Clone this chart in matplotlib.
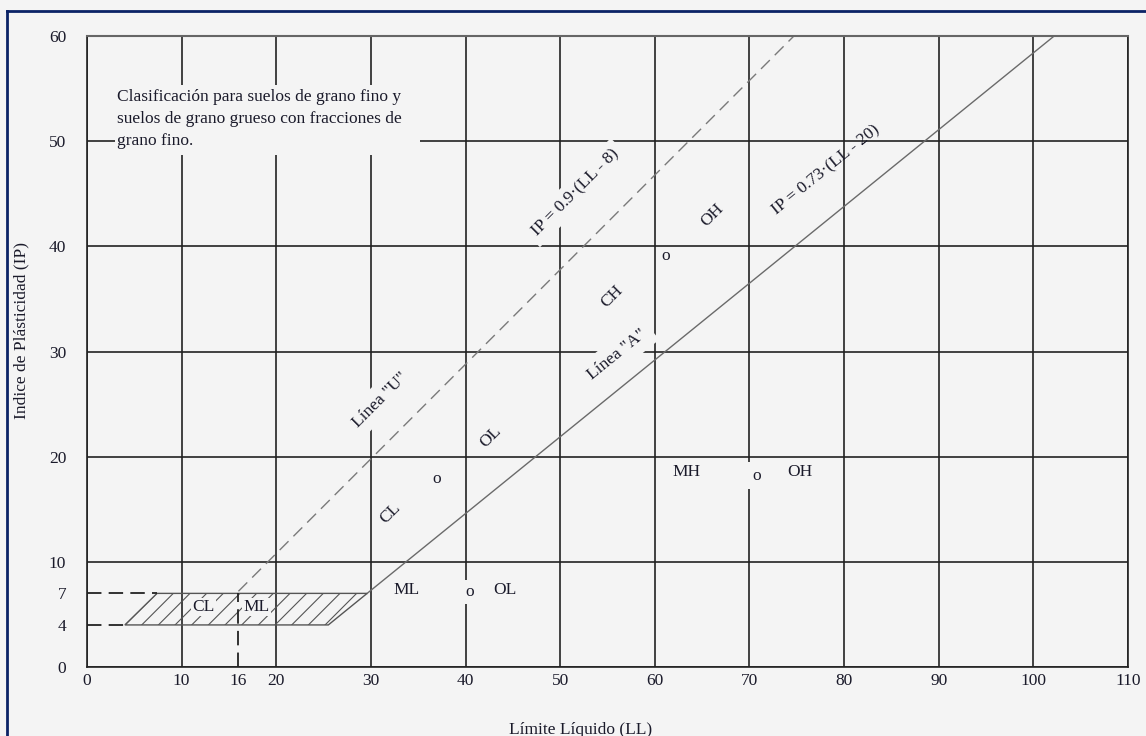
import matplotlib
matplotlib.use("Agg")
import matplotlib.pyplot as plt
from matplotlib.patches import Polygon, Rectangle
from matplotlib.lines import Line2D

plt.rcParams['font.family'] = ['Liberation Serif', 'DejaVu Serif']
plt.rcParams['hatch.linewidth'] = 0.8

BG = '#f4f4f4'
INK = '#1a1a2a'
FS = 12.5

# grid / tick values
x_major = [0, 10, 20, 30, 40, 50, 60, 70, 80, 90, 100, 110]
y_major = [0, 10, 20, 30, 40, 50, 60]
x_extra = [16]
y_extra = [4, 7]

# Linea "U": IP = 0.9 (LL - 8)
u_ll = [16, 74.7]
u_ip = [7.2, 60]
# Linea "A": IP = 0.73 (LL - 20)
a_ll = [29.6, 102.2]
a_ip = [7, 60]

# CL-ML hatched zone
zone_ll = [4, 7.4, 29.6, 25.5]
zone_ip = [4, 7, 7, 4]

# zone labels (text, LL, IP, rotation, background pad -> gap in grid)
lab_text = ['IP = 0.9·(LL - 8)', 'IP = 0.73·(LL - 20)', 'OH', 'o', 'CH', 'Línea "A"',
            'Línea "U"', 'OL', 'o', 'CL', 'MH', 'o', 'OH', 'ML', 'o', 'OL']
lab_ll = [51.6, 78.1, 66.1, 61.2, 55.5, 56.0, 31.0, 42.6, 36.9, 32.0, 63.3, 70.8, 75.3, 33.8, 40.4, 44.2]
lab_ip = [45.1, 47.2, 43.0, 39.1, 35.2, 29.7, 25.4, 21.9, 17.9, 14.6, 18.5, 18.2, 18.5, 7.3, 7.1, 7.3]
lab_rot = [45, 39, 45, 0, 45, 39, 45, 45, 0, 45, 0, 0, 0, 0, 0, 0]
lab_pad = [4, 0, 0, 0, 0, 5, 5, 0, 0, 0, 0, 4, 0, 0, 3, 0]

fig = plt.figure(figsize=(11.46, 7.36), dpi=100, facecolor=BG)
ax = fig.add_axes([87 / 1146, 1 - 667 / 736, 1041 / 1146, 631 / 736])
ax.set_facecolor(BG)
ax.set_xlim(0, 110)
ax.set_ylim(0, 60)

ax.set_xticks(x_major)
ax.set_yticks(y_major)
ax.set_xticks(x_extra, minor=True)
ax.set_yticks(y_extra, minor=True)
ax.set_xticklabels([str(v) for v in x_major], fontsize=FS, color=INK)
ax.set_yticklabels([str(v) for v in y_major], fontsize=FS, color=INK)
ax.set_xticklabels([str(v) for v in x_extra], minor=True, fontsize=FS, color=INK)
ax.set_yticklabels([str(v) for v in y_extra], minor=True, fontsize=FS, color=INK)
ax.tick_params(which='both', length=0)
ax.tick_params(axis='x', which='both', pad=4)
ax.tick_params(axis='y', which='both', pad=15)

ax.set_axisbelow(True)
ax.grid(True, which='major', color='#222222', linewidth=1.2)
for side in ['left', 'bottom', 'right']:
    ax.spines[side].set_color('#222222')
    ax.spines[side].set_linewidth(1.2)
ax.spines['top'].set_color('#666666')
ax.spines['top'].set_linewidth(1.5)

# lines
ax.plot(u_ll, u_ip, color='#7a7a7a', linewidth=1.0, dashes=(9, 5), zorder=2)
ax.plot(a_ll, a_ip, color='#6a6a6a', linewidth=1.0, zorder=2)

# hatched zone
ax.add_patch(Polygon(list(zip(zone_ll, zone_ip)), closed=True, facecolor='none',
                     edgecolor='#555555', hatch='//', linewidth=1.0, zorder=2))
ax.plot([0, zone_ll[1]], [7, 7], color='#222222', linewidth=1.3, dashes=(8, 4), zorder=2)
ax.plot([0, zone_ll[0]], [4, 4], color='#222222', linewidth=1.3, dashes=(8, 4), zorder=2)
ax.plot([16, 16], [0, 7], color='#222222', linewidth=1.3, dashes=(8, 4), zorder=2)

ax.text(12.3, 5.7, 'CL', fontsize=FS, color=INK, ha='center', va='center', zorder=4,
        bbox=dict(facecolor=BG, edgecolor='none', pad=1))
ax.text(17.9, 5.7, 'ML', fontsize=FS, color=INK, ha='center', va='center', zorder=4,
        bbox=dict(facecolor=BG, edgecolor='none', pad=1))

for t, x, y, r, p in zip(lab_text, lab_ll, lab_ip, lab_rot, lab_pad):
    bb = dict(facecolor=BG, edgecolor='none', pad=p) if p else None
    ax.text(x, y, t, fontsize=FS, color=INK, ha='center', va='center', rotation=r,
            rotation_mode='anchor', zorder=4, bbox=bb)

# note box
ax.add_patch(Rectangle((3.0, 48.7), 32.2, 6.6, facecolor=BG, edgecolor='none', zorder=1))
ax.text(3.2, 55.0, 'Clasificación para suelos de grano fino y\n'
        'suelos de grano grueso con fracciones de\ngrano fino.',
        fontsize=FS, color=INK, ha='left', va='top', linespacing=1.5, zorder=4)

ax.set_xlabel('Límite Líquido (LL)', fontsize=FS, color=INK)
ax.set_ylabel('Indice de Plásticidad (IP)', fontsize=FS, color=INK)
ax.xaxis.set_label_coords(0.474, -0.087)
ax.yaxis.set_label_coords(-0.055, 0.534)

# page frame
fig.add_artist(Line2D([7 / 1146, 7 / 1146], [-0.01, 1 - 11 / 736], transform=fig.transFigure,
                      color='#0b2366', linewidth=2))
fig.add_artist(Line2D([7 / 1146, 1.01], [1 - 11 / 736, 1 - 11 / 736], transform=fig.transFigure,
                      color='#0b2366', linewidth=2))

fig.savefig('out.png', dpi=100, facecolor=BG)
